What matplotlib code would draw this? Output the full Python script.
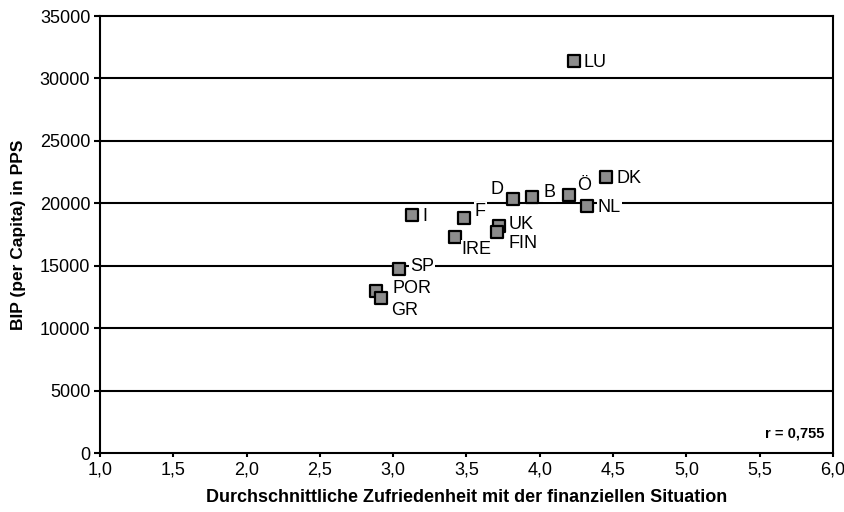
import matplotlib
matplotlib.use("Agg")
import matplotlib.pyplot as plt

plt.rcParams["font.family"] = ["Liberation Sans", "DejaVu Sans"]

# Länder, Zufriedenheit (x) und BIP pro Kopf in PPS (y)
countries = ["LU", "DK", "Ö", "B", "D", "NL", "I", "F", "UK", "FIN",
             "IRE", "SP", "POR", "GR"]
satisfaction = [4.23, 4.45, 4.20, 3.95, 3.82, 4.32, 3.13, 3.48, 3.72, 3.71,
                3.42, 3.04, 2.88, 2.92]
gdp = [31400, 22070, 20660, 20500, 20340, 19780, 19060, 18820, 18180, 17700,
       17300, 14700, 12980, 12450]
# label offsets in points (dx, dy) and horizontal alignment
label_off = {"LU": (7, -1, "left"), "DK": (8, -1, "left"), "Ö": (6, 7, "left"),
             "B": (8, 3, "left"), "D": (-7, 7, "right"), "NL": (8, -1, "left"),
             "I": (7, -1, "left"), "F": (8, 5, "left"), "UK": (7, 1, "left"),
             "FIN": (8, -8, "left"), "IRE": (5, -9, "left"), "SP": (8, 2, "left"),
             "POR": (12, 2, "left"), "GR": (7, -9, "left")}
r_text = "r = 0,755"

fig = plt.figure(figsize=(8.45, 5.12), dpi=100)
ax = fig.add_axes([0.1183, 0.1152, 0.8675, 0.8535])

# horizontal grid lines
for yv in range(5000, 35000, 5000):
    ax.axhline(yv, color="black", lw=1.5, zorder=1)

ax.scatter(satisfaction, gdp, marker="s", s=70, c="#8c8c8c",
           edgecolors="black", linewidths=1.6, zorder=3)

for name, xv, yv in zip(countries, satisfaction, gdp):
    dx, dy, ha = label_off[name]
    ax.annotate(name, (xv, yv), xytext=(dx, dy), textcoords="offset points",
                ha=ha, va="center", fontsize=13, zorder=4,
                bbox=dict(boxstyle="square,pad=0.05", fc="white", ec="none"))

ax.set_xlim(1.0, 6.0)
ax.set_ylim(0, 35000)
ax.set_xticks([1.0 + 0.5 * i for i in range(11)])
ax.set_xticklabels([f"{1.0 + 0.5 * i:.1f}".replace(".", ",") for i in range(11)])
ax.set_yticks(range(0, 35001, 5000))

for s in ax.spines.values():
    s.set_linewidth(1.5)
ax.tick_params(axis="y", length=4, width=1.5, labelsize=13, pad=3)
ax.tick_params(axis="x", length=3, width=1.5, labelsize=13, pad=3)

ax.set_xlabel("Durchschnittliche Zufriedenheit mit der finanziellen Situation",
              fontsize=13, fontweight="bold", labelpad=8)
ax.set_ylabel("BIP (per Capita) in PPS", fontsize=12.5, fontweight="bold",
              labelpad=10)

ax.text(0.988, 0.045, r_text, transform=ax.transAxes, ha="right", va="center",
        fontsize=10.5, fontweight="bold")

fig.savefig("out.png", dpi=100)
